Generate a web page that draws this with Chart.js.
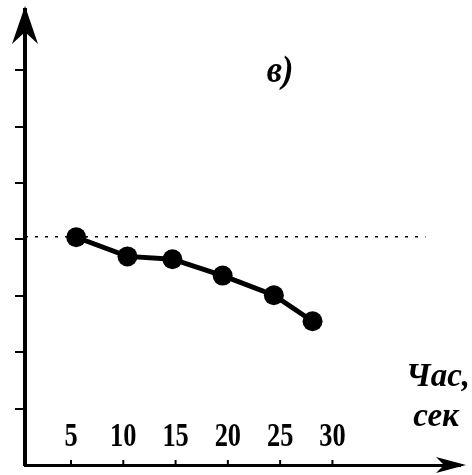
<!DOCTYPE html>
<html>
<head>
<meta charset="utf-8">
<script src="https://cdn.jsdelivr.net/npm/chart.js@4/dist/chart.umd.min.js"></script>
<style>
  html, body { margin: 0; padding: 0; background: #fff; }
  #wrap { width: 472px; height: 475px; }
</style>
</head>
<body>
<div id="wrap"><canvas id="c" width="472" height="475"></canvas></div>
<script>
// ---- data ----
const timeValues = [5.5, 10.4, 14.7, 19.5, 24.4, 28.1];   // Час, сек
const measured   = [4.04, 3.70, 3.65, 3.36, 3.01, 2.55];
const referenceLevelX = [0.6, 38.9];
const referenceLevelY = [4.05, 4.05];
const xTickValues = [5, 10, 15, 20, 25, 30];
const xTickLabels = ['5', '10', '15', '20', '25', '30'];
const yTickValues = [1, 2, 3, 4, 5, 6, 7];
const panelLabel = 'в)';
const axisLabelLines = ['Час,', 'сек'];

const seriesPoints = timeValues.map((t, i) => ({ x: t, y: measured[i] }));
const refPoints = referenceLevelX.map((t, i) => ({ x: t, y: referenceLevelY[i] }));

function stretchedText(ctx, text, x, y, sx) {
  ctx.save();
  ctx.translate(x, y);
  ctx.scale(sx, 1);
  ctx.fillText(text, 0, 0);
  ctx.restore();
}

const decor = {
  id: 'decor',
  afterDraw(chart) {
    const ctx = chart.ctx;
    const xs = chart.scales.x;
    const a = chart.chartArea;
    ctx.save();
    ctx.fillStyle = '#000';
    ctx.strokeStyle = '#000';
    // y arrow
    const ax = a.left;
    ctx.beginPath();
    ctx.moveTo(ax, a.top - 4);
    ctx.lineTo(ax - 13, a.top + 34);
    ctx.lineTo(ax, a.top + 22);
    ctx.lineTo(ax + 13, a.top + 34);
    ctx.closePath();
    ctx.fill();
    // x arrow
    const ay = a.bottom;
    ctx.beginPath();
    ctx.moveTo(a.right + 6, ay);
    ctx.lineTo(a.right - 24, ay - 8);
    ctx.lineTo(a.right - 16, ay);
    ctx.lineTo(a.right - 24, ay + 8);
    ctx.closePath();
    ctx.fill();
    // x tick marks (inside, upward)
    ctx.lineWidth = 2;
    for (const v of xTickValues) {
      const px = xs.getPixelForValue(v);
      ctx.beginPath();
      ctx.moveTo(px, ay);
      ctx.lineTo(px, ay - 5);
      ctx.stroke();
    }
    // x tick labels
    ctx.font = 'bold 33px "Liberation Serif", "DejaVu Serif", serif';
    ctx.textAlign = 'center';
    ctx.textBaseline = 'alphabetic';
    xTickValues.forEach((v, i) => {
      stretchedText(ctx, xTickLabels[i], xs.getPixelForValue(v), 446, 0.8);
    });
    // axis label
    ctx.font = 'italic bold 33px "Liberation Serif", "DejaVu Serif", serif';
    ctx.textAlign = 'center';
    stretchedText(ctx, axisLabelLines[0], 438, 386, 1.0);
    stretchedText(ctx, axisLabelLines[1], 436, 426, 1.0);
    // panel label
    ctx.font = 'italic bold 38px "Liberation Serif", "DejaVu Serif", serif';
    stretchedText(ctx, panelLabel, 280, 82, 0.9);
    ctx.restore();
  }
};

new Chart(document.getElementById('c'), {
  type: 'scatter',
  data: {
    datasets: [
      {
        data: refPoints,
        showLine: true,
        borderColor: '#000',
        borderWidth: 1.5,
        borderDash: [3, 7],
        pointRadius: 0,
        order: 2
      },
      {
        data: seriesPoints,
        showLine: true,
        borderColor: '#000',
        backgroundColor: '#000',
        borderWidth: 5,
        pointRadius: 10,
        pointBackgroundColor: '#000',
        pointBorderWidth: 0,
        order: 1
      }
    ]
  },
  options: {
    responsive: false,
    animation: false,
    layout: { padding: { left: 15, right: 12, top: 10, bottom: 9 } },
    plugins: { legend: { display: false }, tooltip: { enabled: false } },
    scales: {
      x: {
        type: 'linear',
        min: 0.6,
        max: 42.2,
        grid: { display: false, drawOnChartArea: false, drawTicks: false },
        border: { display: true, color: '#000', width: 3 },
        ticks: { display: false }
      },
      y: {
        type: 'linear',
        min: 0,
        max: 8.07,
        afterBuildTicks(scale) { scale.ticks = yTickValues.map(v => ({ value: v })); },
        grid: { drawOnChartArea: false, drawTicks: true, tickLength: 10, color: '#000', lineWidth: 2 },
        border: { display: true, color: '#000', width: 4 },
        ticks: { display: false }
      }
    }
  },
  plugins: [decor]
});
</script>
</body>
</html>
